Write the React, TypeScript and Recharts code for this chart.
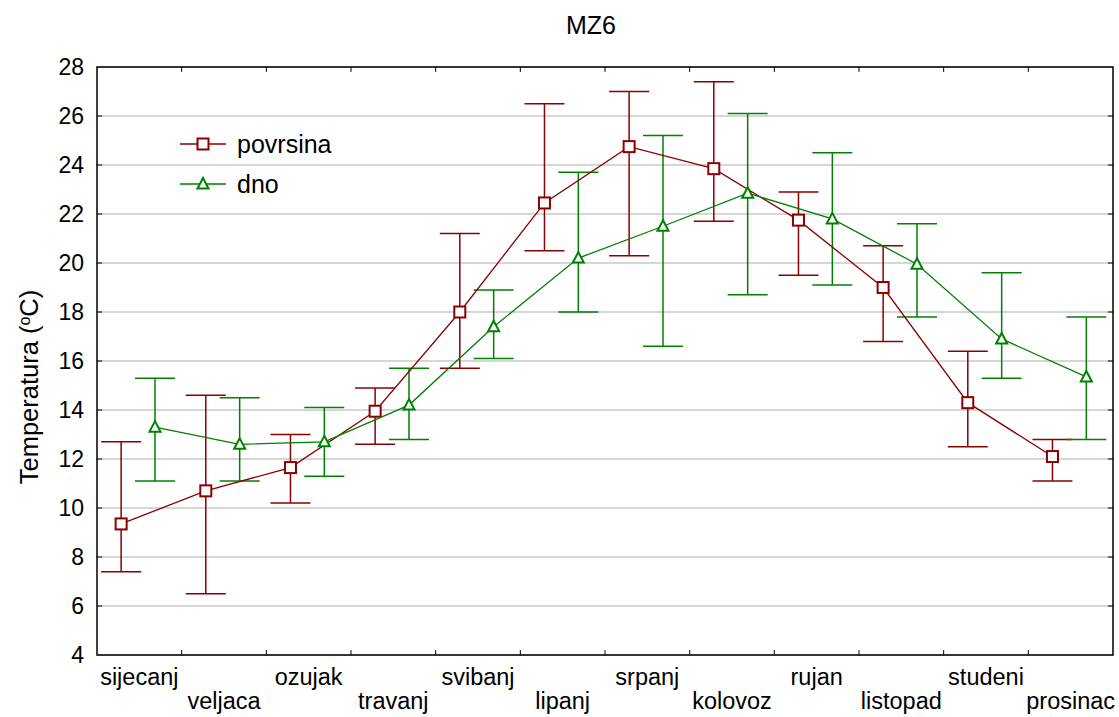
import {
  CartesianGrid,
  ErrorBar,
  Legend,
  ReferenceArea,
  ReferenceLine,
  Scatter,
  ScatterChart,
  XAxis,
  YAxis,
} from "recharts";

const MONTHS = [
  "sijecanj",
  "veljaca",
  "ozujak",
  "travanj",
  "svibanj",
  "lipanj",
  "srpanj",
  "kolovoz",
  "rujan",
  "listopad",
  "studeni",
  "prosinac",
];

const POVRSINA_MEAN = [9.35, 10.7, 11.65, 13.95, 18.0, 22.45, 24.75, 23.85, 21.75, 19.0, 14.3, 12.1];
const POVRSINA_LOW = [7.4, 6.5, 10.2, 12.6, 15.7, 20.5, 20.3, 21.7, 19.5, 16.8, 12.5, 11.1];
const POVRSINA_HIGH = [12.7, 14.6, 13.0, 14.9, 21.2, 26.5, 27.0, 27.4, 22.9, 20.7, 16.4, 12.8];

const DNO_MEAN = [13.3, 12.6, 12.7, 14.2, 17.4, 20.2, 21.5, 22.85, 21.8, 19.95, 16.9, 15.35];
const DNO_LOW = [11.1, 11.1, 11.3, 12.8, 16.1, 18.0, 16.6, 18.7, 19.1, 17.8, 15.3, 12.8];
const DNO_HIGH = [15.3, 14.5, 14.1, 15.7, 18.9, 23.7, 25.2, 26.1, 24.5, 21.6, 19.6, 17.8];

const Y_TICKS = [4, 6, 8, 10, 12, 14, 16, 18, 20, 22, 24, 26, 28];

const RED = "#8b0000";
const GREEN = "#008000";
const FONT = "'Liberation Sans', Arial, sans-serif";

// where each series sits inside its month band
const POVRSINA_OFFSET = 0.285;
const DNO_OFFSET = 0.685;

const toSeries = (mean: number[], low: number[], high: number[], offset: number) =>
  mean.map((m, i) => ({
    x: i + offset,
    y: m,
    err: [m - low[i], high[i] - m],
  }));

const povrsinaData = toSeries(POVRSINA_MEAN, POVRSINA_LOW, POVRSINA_HIGH, POVRSINA_OFFSET);
const dnoData = toSeries(DNO_MEAN, DNO_LOW, DNO_HIGH, DNO_OFFSET);

const labelTicks = MONTHS.map((_, i) => i + 0.5);
const edgeTicks = MONTHS.slice(1).map((_, i) => i + 1);
const innerY = Y_TICKS.slice(1, -1);

function SquareDot({ cx, cy }: any) {
  return <rect x={cx - 5.5} y={cy - 5.5} width={11} height={11} fill="#fff" stroke={RED} strokeWidth={2} />;
}

function TriangleDot({ cx, cy }: any) {
  return (
    <polygon
      points={`${cx},${cy - 6} ${cx - 5.5},${cy + 4.5} ${cx + 5.5},${cy + 4.5}`}
      fill="#fff"
      stroke={GREEN}
      strokeWidth={2}
    />
  );
}

function MonthTick({ x, y, payload }: any) {
  const idx = Math.floor(payload.value);
  const lower = idx % 2 === 1;
  return (
    <text x={x} y={y + (lower ? 52 : 28)} textAnchor="middle" fontSize={23.5} fontFamily={FONT} fill="#000">
      {MONTHS[idx]}
    </text>
  );
}

function YTitle({ viewBox }: any) {
  const cy = viewBox.y + viewBox.height / 2 + 26;
  return (
    <text
      x={38}
      y={cy}
      transform={`rotate(-90, 38, ${cy})`}
      textAnchor="middle"
      fontSize={25.5}
      fontFamily={FONT}
      fill="#000"
    >
      Temperatura (
      <tspan baselineShift="super" fontSize={16}>
        o
      </tspan>
      C)
    </text>
  );
}

function LegendBox() {
  const rows = [
    { name: "povrsina", color: RED, square: true },
    { name: "dno", color: GREEN, square: false },
  ];
  return (
    <div style={{ fontFamily: FONT, fontSize: 25, color: "#000" }}>
      {rows.map((r) => (
        <div key={r.name} style={{ display: "flex", alignItems: "center", height: 40 }}>
          <svg width={46} height={20} style={{ marginRight: 11 }}>
            <line x1={0} y1={10} x2={46} y2={10} stroke={r.color} strokeWidth={1.3} />
            {r.square ? (
              <rect x={17.5} y={4.5} width={11} height={11} fill="#fff" stroke={r.color} strokeWidth={2} />
            ) : (
              <polygon points="23,4 17.5,14.5 28.5,14.5" fill="#fff" stroke={r.color} strokeWidth={2} />
            )}
          </svg>
          <span>{r.name}</span>
        </div>
      ))}
    </div>
  );
}

export default function App() {
  return (
    <div style={{ position: "absolute", left: 0, top: 0, width: 1119, height: 717, background: "#fff" }}>
      <div
        style={{
          position: "absolute",
          left: 0,
          width: 1182,
          top: 11,
          textAlign: "center",
          fontFamily: FONT,
          fontSize: 25,
        }}
      >
        MZ6
      </div>
      <ScatterChart width={1119} height={717} margin={{ top: 67, right: 6, bottom: 0, left: 0 }}>
        <CartesianGrid horizontal vertical={false} stroke="#c8c8c8" strokeWidth={1.5} />
        <XAxis
          type="number"
          dataKey="x"
          domain={[0, 12]}
          ticks={labelTicks}
          interval={0}
          axisLine={false}
          tickLine={false}
          tick={<MonthTick />}
          height={62}
          tickSize={0}
        />
        <YAxis
          type="number"
          dataKey="y"
          domain={[4, 28]}
          ticks={Y_TICKS}
          interval={0}
          axisLine={false}
          tickLine={false}
          tickSize={0}
          tickMargin={13}
          width={97}
          tick={{ fontSize: 23, fill: "#000", fontFamily: FONT }}
          label={<YTitle />}
        />
        <ReferenceArea x1={0} x2={12} y1={4} y2={28} fill="none" stroke="#000" strokeWidth={1.5} />
        {edgeTicks.map((v) => (
          <ReferenceLine key={`b${v}`} segment={[{ x: v, y: 4 }, { x: v, y: 4.2 }]} stroke="#000" />
        ))}
        {edgeTicks.map((v) => (
          <ReferenceLine key={`t${v}`} segment={[{ x: v, y: 27.8 }, { x: v, y: 28 }]} stroke="#000" />
        ))}
        {innerY.map((v) => (
          <ReferenceLine key={`l${v}`} segment={[{ x: 0, y: v }, { x: 0.06, y: v }]} stroke="#000" />
        ))}
        {innerY.map((v) => (
          <ReferenceLine key={`r${v}`} segment={[{ x: 11.94, y: v }, { x: 12, y: v }]} stroke="#000" />
        ))}
        <Scatter
          name="povrsina"
          data={povrsinaData}
          shape={<SquareDot />}
          line={{ stroke: RED, strokeWidth: 1.3 }}
          lineType="joint"
          isAnimationActive={false}
        >
          <ErrorBar dataKey="err" direction="y" width={20} stroke={RED} strokeWidth={1.5} />
        </Scatter>
        <Scatter
          name="dno"
          data={dnoData}
          shape={<TriangleDot />}
          line={{ stroke: GREEN, strokeWidth: 1.3 }}
          lineType="joint"
          isAnimationActive={false}
        >
          <ErrorBar dataKey="err" direction="y" width={20} stroke={GREEN} strokeWidth={1.5} />
        </Scatter>
        <Legend
          layout="vertical"
          align="center"
          verticalAlign="middle"
          content={<LegendBox />}
          wrapperStyle={{ position: "absolute", left: 180, top: 124, width: "auto" }}
        />
      </ScatterChart>
    </div>
  );
}
